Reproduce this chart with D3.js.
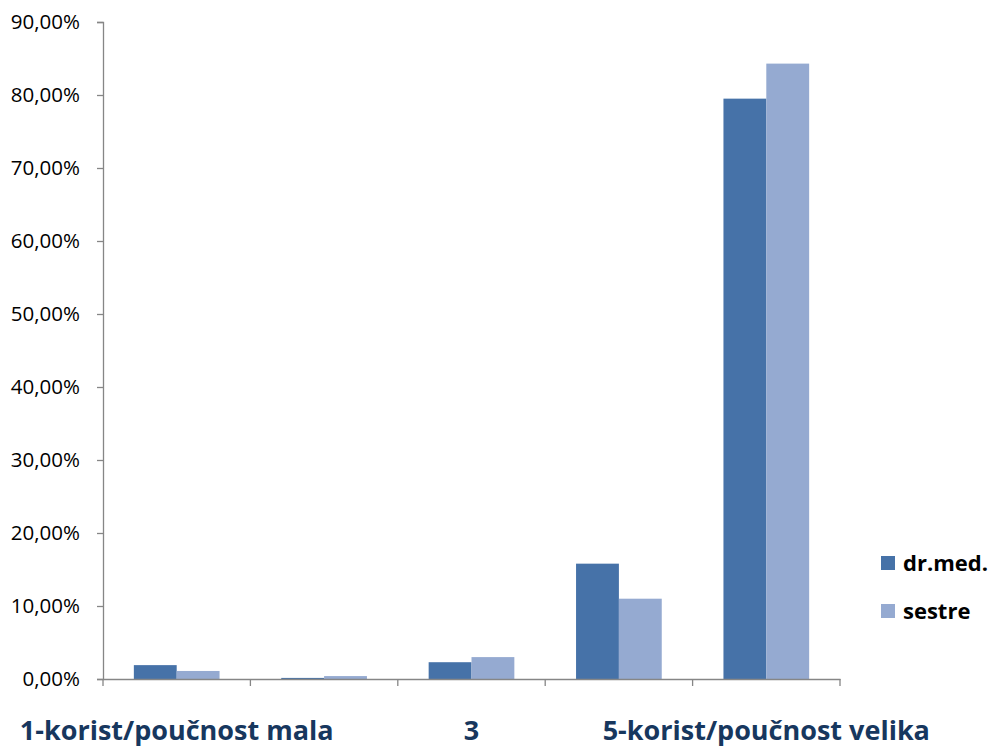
<!DOCTYPE html>
<html><head><meta charset="utf-8">
<script src="https://cdn.jsdelivr.net/npm/d3@7"></script>
<style>body{margin:0;background:#fff}svg{display:block}</style>
</head><body>
<svg id="c" width="992" height="747"></svg>
<script>
const categories = ["1-korist/poučnost mala", "2", "3", "4", "5-korist/poučnost velika"];
const categoryLabels = ["1-korist/poučnost mala", "", "3", "", "5-korist/poučnost velika"];
const seriesNames = ["dr.med.", "sestre"];
const drMed = [1.9, 0.15, 2.3, 15.8, 79.5];
const sestre = [1.1, 0.4, 3.0, 11.0, 84.3];
const yTicks = [0, 10, 20, 30, 40, 50, 60, 70, 80, 90];
const colors = ["#4672a8", "#95aad1"];

(function () {
const svg = d3.select("#c");
const mLeft = 103, mRight = 840, mTop = 22, mBottom = 679;
const font = "'Open Sans', Lato, sans-serif";

const x = d3.scaleBand().domain(categories).range([mLeft, mRight]).paddingInner(0).paddingOuter(0);
const y = d3.scaleLinear().domain([0, 90]).range([mBottom, mTop]);
const xs = d3.scaleBand().domain(seriesNames).range([0, x.bandwidth()]).paddingInner(0).paddingOuter(0.72);

const series = [drMed, sestre];
series.forEach((vals, si) => {
  svg.append("g").selectAll("rect").data(vals).join("rect")
    .attr("x", (d, i) => x(categories[i]) + xs(seriesNames[si]))
    .attr("y", d => y(d))
    .attr("width", xs.bandwidth())
    .attr("height", d => y(0) - y(d))
    .attr("fill", colors[si]);
});

const yAxis = d3.axisLeft(y).tickValues(yTicks).tickSize(6).tickPadding(17)
  .tickFormat(d => d.toFixed(2).replace(".", ",") + "%");
const gy = svg.append("g").attr("transform", `translate(${mLeft},0)`).call(yAxis);
gy.select(".domain").attr("stroke", "#868686").attr("stroke-width", 1.3);
gy.selectAll(".tick line").attr("stroke", "#868686").attr("stroke-width", 1.3);
gy.selectAll(".tick text").attr("font-family", font).attr("font-size", 20.5).attr("fill", "#000");

const xAxis = d3.axisBottom(x).tickSize(0).tickFormat((d, i) => categoryLabels[i]);
const gx = svg.append("g").attr("transform", `translate(0,${mBottom})`).call(xAxis);
gx.select(".domain").attr("stroke", "#868686").attr("stroke-width", 1.3);
gx.selectAll(".tick text").attr("font-family", font).attr("font-size", 27)
  .attr("font-weight", "bold").attr("fill", "#17375e").attr("dy", 0).attr("y", 61);
const bounds = categories.map(c => x(c)).concat([mRight]);
gx.append("g").selectAll("line").data(bounds).join("line")
  .attr("x1", d => d).attr("x2", d => d).attr("y1", 0).attr("y2", 7)
  .attr("stroke", "#868686").attr("stroke-width", 1.3);

const lg = svg.append("g").attr("transform", "translate(881,556)");
seriesNames.forEach((n, i) => {
  const g = lg.append("g").attr("transform", `translate(0,${i * 48})`);
  g.append("rect").attr("width", 14).attr("height", 14).attr("fill", colors[i]);
  g.append("text").attr("x", 22).attr("y", 15).text(n)
    .attr("font-family", font).attr("font-size", 22).attr("font-weight", "bold").attr("fill", "#000");
});
})();
</script>
</body></html>
